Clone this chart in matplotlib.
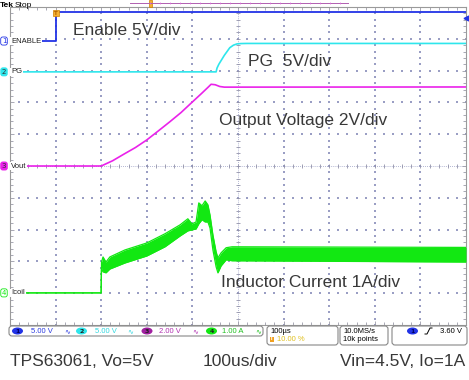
import matplotlib
matplotlib.use('Agg')
import matplotlib.pyplot as plt
import numpy as np
from matplotlib.patches import FancyBboxPatch, Ellipse, Rectangle
from matplotlib.transforms import blended_transform_factory

W, H = 469, 380

# ---------------- data ----------------
t_start, t_end = -100, 900          # us (100 us/div, trigger at 10 %)
time_div_label = '100\u00b5s'
trig_label = '10.00 %'
sample_labels = ['10.0MS/s', '10k points']
trig_level_label = '3.60 V'
trig_level_v = 3.6

ch_names = ['ENABLE', 'PG', 'Vout', 'Icoil']
ch_scales = [5.0, 5.0, 2.0, 1.0]
ch_scale_labels = ['5.00 V', '5.00 V', '2.00 V', '1.00 A']
ch_offsets = [3.93, 2.96, 0.0, -3.99]        # ground position, div from centre
ch_colors = ['#2233e6', '#2ee6ec', '#ea22ea', '#12e812']
ch_text_colors = ['#2a3ae0', '#30d8e0', '#b030b0', '#20c020']

enable_t = [-100, 0, 0, 900]
enable_v = [0, 0, 4.5, 4.5]

pg_t = [-100, 352, 354, 358, 364, 370, 376, 382, 390, 398, 406, 420, 900]
pg_v = [0, 0, 0.6, 1.2, 1.9, 2.6, 3.2, 3.8, 4.2, 4.4, 4.45, 4.47, 4.47]

vout_t = [-100, 100, 125, 150, 175, 200, 225, 250, 275, 300, 320, 335, 341, 350, 360, 370, 900]
vout_v = [0, 0, 0.33, 0.75, 1.16, 1.64, 2.20, 2.77, 3.36, 4.03, 4.56, 4.97, 5.14, 5.11, 5.0, 4.96, 4.97]

icoil_t = [-100, 99.8, 100.7, 104, 110.5, 119, 152, 200, 240, 273, 290, 299, 308, 314,
           321, 328, 334, 338.6, 345, 352, 356, 363, 374, 387, 900]
icoil_hi = [0, 0, 0.97, 1.13, 0.97, 1.13, 1.35, 1.57, 1.86, 2.14, 2.33, 2.17, 2.23, 2.83,
            2.74, 2.89, 2.77, 2.45, 1.82, 1.29, 1.10, 1.26, 1.42, 1.45, 1.43]
icoil_lo = [0, 0, 0.79, 0.66, 0.63, 0.75, 0.94, 1.16, 1.45, 1.79, 1.95, 1.98, 2.01, 2.17,
            2.30, 2.23, 2.23, 2.04, 1.35, 0.82, 0.63, 0.85, 1.04, 1.01, 0.97]

annotations = [('Enable 5V/div', 73, 35), ('PG  5V/div', 248, 66),
               ('Output Voltage 2V/div', 219, 125), ('Inductor Current 1A/div', 221, 287)]
footer = [('TPS63061, Vo=5V', 10, 366), ('100us/div', 203, 366), ('Vin=4.5V, Io=1A', 340, 366)]

# ---------------- figure ----------------
fig = plt.figure(figsize=(W / 100, H / 100), dpi=100)
fig.patch.set_facecolor('white')
ax = fig.add_axes([10 / W, 1 - 325 / H, 456 / W, 318 / H])
ax.set_xlim(t_start, t_end)
ax.set_ylim(-5, 5)
ax.set_facecolor('white')

ov = fig.add_axes([0, 0, 1, 1])
ov.set_xlim(0, W)
ov.set_ylim(H, 0)
ov.axis('off')
ov.patch.set_alpha(0)

grid_col = '#9a9ec4'
major_x = np.arange(t_start, t_end + 1, 100)
major_y = np.arange(-5, 5.01, 1)
minor_x = np.arange(t_start, t_end + 0.1, 20)
minor_y = np.arange(-5, 5.001, 0.2)
for xv in major_x[1:-1]:
    if xv == 400:
        continue
    ax.scatter(np.full(len(minor_y), xv), minor_y, s=1.5, c=grid_col, marker='s', lw=0, zorder=1)
for yv in major_y[1:-1]:
    if yv == 0:
        continue
    ax.scatter(minor_x, np.full(len(minor_x), yv), s=1.5, c=grid_col, marker='s', lw=0, zorder=1)
# centre crosshair
ax.plot([400, 400], [-5, 5], ls=(0, (1, 1.5)), lw=0.6, color=grid_col, zorder=1)
ax.plot([t_start, t_end], [0, 0], ls=(0, (1, 1.5)), lw=0.6, color=grid_col, zorder=1)
ax.plot(np.full(len(minor_y), 400), minor_y, ls='none', marker='_', ms=3, mew=0.6, color='#9090a8', zorder=1)
ax.plot(minor_x, np.zeros(len(minor_x)), ls='none', marker='|', ms=3, mew=0.6, color='#9090a8', zorder=1)

ax.set_xticks(major_x)
ax.set_xticks(minor_x, minor=True)
ax.set_yticks(major_y)
ax.set_yticks(minor_y, minor=True)
ax.tick_params(which='both', direction='in', top=True, right=True, labelbottom=False,
               labelleft=False, color='#9a9aa8', width=0.6)
ax.tick_params(which='major', length=3)
ax.tick_params(which='minor', length=2)
for s in ax.spines.values():
    s.set_color('#9a9a9a')
    s.set_linewidth(0.8)

def to_div(vals, ch):
    return ch_offsets[ch] + np.asarray(vals, float) / ch_scales[ch]

# traces
ax.plot(enable_t, to_div(enable_v, 0), color=ch_colors[0], lw=1.3, zorder=3)
ax.plot(pg_t, to_div(pg_v, 1), color=ch_colors[1], lw=1.2, zorder=3)
ax.plot(vout_t, to_div(vout_v, 2), color=ch_colors[2], lw=1.2, zorder=3)
ax.fill_between(icoil_t, to_div(icoil_lo, 3), to_div(icoil_hi, 3), color=ch_colors[3], lw=0, zorder=3)
ax.plot(icoil_t, to_div(icoil_hi, 3), color=ch_colors[3], lw=0.9, zorder=3)
ax.plot(icoil_t, to_div(icoil_lo, 3), color=ch_colors[3], lw=0.9, zorder=3)

# channel markers and labels at left
tr = blended_transform_factory(ov.transData, ax.transData)
marker_fill = [False, True, True, False]
for i, name in enumerate(ch_names):
    off = ch_offsets[i]
    col = ch_colors[i]
    if marker_fill[i]:
        bb = dict(boxstyle='round,pad=0.15,rounding_size=0.3', fc=col, ec=col, lw=0.6)
        tc = '#303030'
    else:
        bb = dict(boxstyle='round,pad=0.15,rounding_size=0.3', fc='white', ec=col, lw=0.6)
        tc = col
    ax.text(4, off, str(i + 1), transform=tr, fontsize=5, color=tc, ha='center', va='center',
            bbox=bb, clip_on=False, zorder=6, family='DejaVu Sans')
    ax.text(11, off, name, transform=tr, fontsize=5.5, color='#202020', ha='left', va='center',
            family='Liberation Sans', clip_on=False, zorder=6,
            bbox=dict(boxstyle='square,pad=0.1', fc='white', ec='none'))

# trigger level marker at right edge
ax.plot([t_end], [ch_offsets[0] + trig_level_v / ch_scales[0]], marker='<', ms=3.5,
        color=ch_colors[0], clip_on=False, zorder=6)
# trigger position marker at top
ax.plot([0], [4.8], marker='s', ms=4.5, color='#f5b030', mec='#d08000', mew=0.5, clip_on=False, zorder=6)
ax.text(0, 4.8, 'T', fontsize=4, color='#b06000', ha='center', va='center', fontweight='bold',
        clip_on=False, zorder=7)

# top bar
ov.text(0, 7, 'Tek', fontsize=6, fontweight='bold', color='black', va='baseline', family='Liberation Sans')
ov.text(15, 7, 'Stop', fontsize=6, color='black', va='baseline', family='Liberation Sans')
ov.plot([130, 348], [3, 3], color='#b060b0', lw=0.7)
ov.plot(np.arange(150, 348, 10), np.full(len(np.arange(150, 348, 10)), 3), ls='none',
        marker='|', ms=1.5, mew=0.5, color='#e070e0')
ov.add_patch(Rectangle((148.5, 0), 3.5, 7, fc='#f5b030', ec='#d08000', lw=0.5))

# status bar
def rbox(x, y, w, h):
    ov.add_patch(FancyBboxPatch((x, y), w, h, boxstyle='round,pad=0,rounding_size=3',
                                fc='white', ec='#888888', lw=0.8))

rbox(9, 326, 254, 10)
ell_x = [17.5, 81.5, 147, 211.5]
txt_x = [31, 95, 159, 222]
bw_x = [67, 130, 195, 258]
for i in range(4):
    ov.add_patch(Ellipse((ell_x[i], 331), 11, 7, fc=ch_colors[i] if i != 2 else '#a020a0', ec='none'))
    ov.text(ell_x[i], 331.3, str(i + 1), fontsize=4.5, ha='center', va='center',
            color='#202020' if i != 0 else '#000060', fontweight='bold')
    ov.text(txt_x[i], 331.3, ch_scale_labels[i], fontsize=5.5, color=ch_text_colors[i],
            va='center', family='Liberation Sans')
    ov.text(bw_x[i], 331, '\u223f', fontsize=5, color=ch_text_colors[i], va='center', ha='center',
            family='DejaVu Sans')

rbox(267, 326, 71, 19)
ov.text(270, 331.3, time_div_label, fontsize=5.5, va='center', family='Liberation Sans')
ov.add_patch(Rectangle((270, 336.5), 4, 5, fc='#f0a020', ec='none'))
ov.text(272, 339, 'T', fontsize=3.5, color='white', ha='center', va='center', fontweight='bold')
ov.text(277, 339.3, trig_label, fontsize=5.5, va='center', color='#e0c020', family='Liberation Sans')

rbox(340, 326, 48, 19)
ov.text(343, 331.3, sample_labels[0], fontsize=5.5, va='center', family='Liberation Sans')
ov.text(343, 339.3, sample_labels[1], fontsize=5.5, va='center', family='Liberation Sans')

rbox(392, 326, 75, 19)
ov.add_patch(Ellipse((412.5, 331), 11, 7, fc=ch_colors[0], ec='none'))
ov.text(412.5, 331.3, '1', fontsize=4.5, ha='center', va='center', color='#000060', fontweight='bold')
ov.plot([425, 427, 430, 432], [334, 334, 328, 328], color='black', lw=0.7)
ov.text(440, 331.3, trig_level_label, fontsize=5.5, va='center', family='Liberation Sans')

# annotations
for s, x, y in annotations + footer:
    fig.text(x / W, 1 - y / H, s, fontsize=12.5, family='Liberation Sans', color='#383838',
             va='baseline', ha='left')

fig.savefig('out.png', dpi=100)
